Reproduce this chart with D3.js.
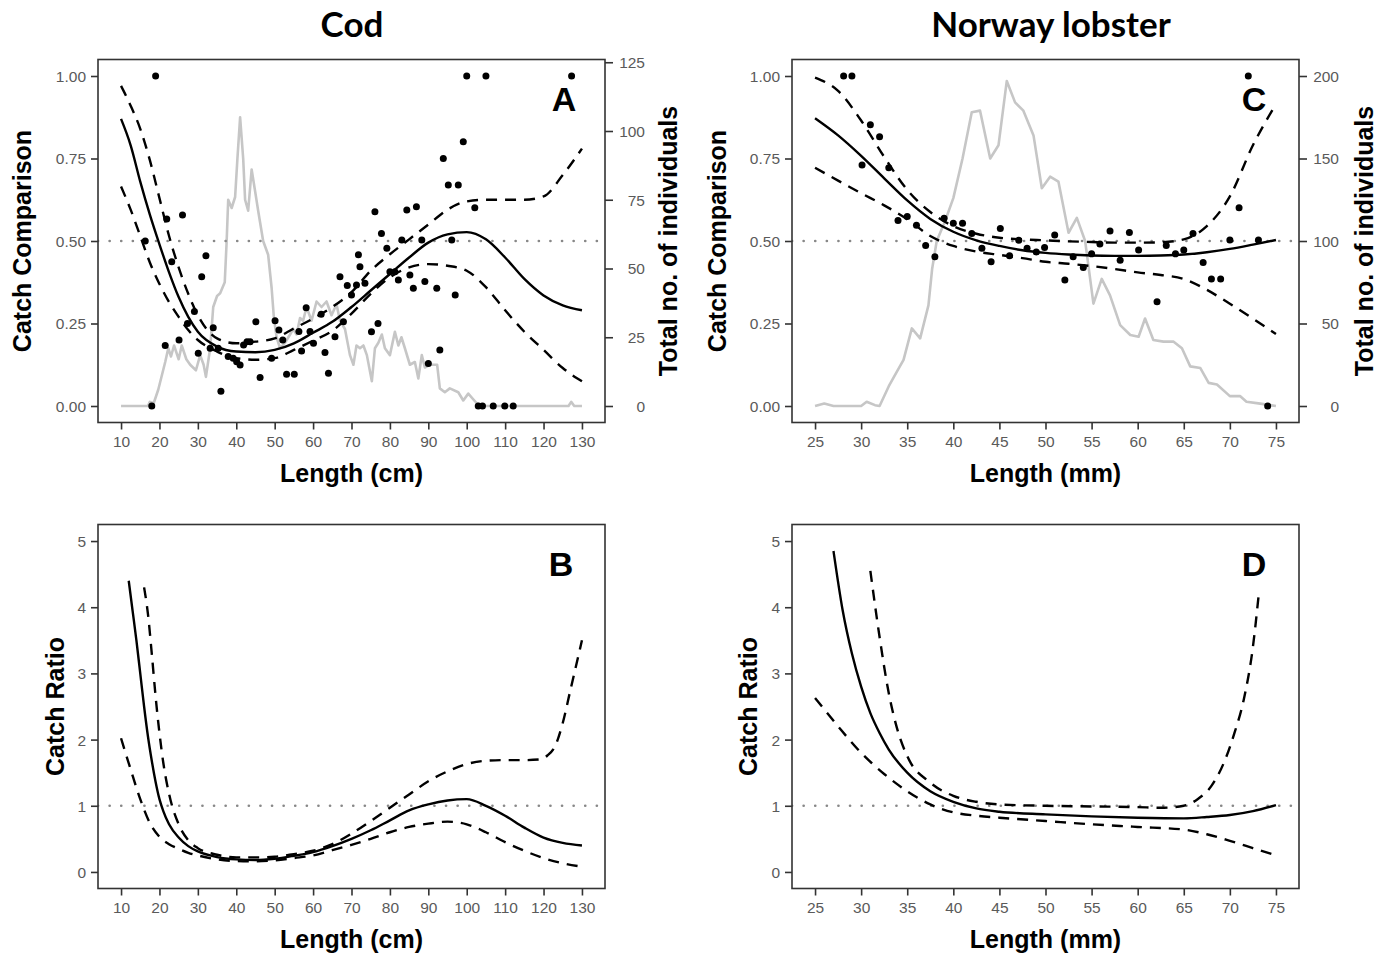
<!DOCTYPE html>
<html><head><meta charset="utf-8">
<script src="https://cdn.jsdelivr.net/npm/d3@7"></script>
<style>
body{margin:0;background:#fff;}
svg{display:block;}
</style></head>
<body>
<svg id="chart" width="1390" height="953"></svg>
<script>
// ---------------- DATA ----------------
const codTicksX = [10,20,30,40,50,60,70,80,90,100,110,120,130];
const nephTicksX = [25,30,35,40,45,50,55,60,65,70,75];
const ccTicksY = [0,0.25,0.5,0.75,1.0];
const crTicksY = [0,1,2,3,4,5];
const codCountTicks = [0,25,50,75,100,125];
const nephCountTicks = [0,50,100,150,200];

// Cod: total number of individuals (grey line)
const codCountLen = [10,17,17.5,18.5,19.7,21.5,22.3,23,23.8,25,25.8,27,28,29.5,30.6,31.5,32.1,33.2,34,35,35.8,37,37.5,37.9,38.8,39.7,40.3,41,41.8,42.3,43.1,44,44.8,45.7,47,48.3,49.2,49.8,50.5,51.4,52.7,54,54.8,55.7,56.6,57.4,58.3,59.6,60.9,62.2,63.5,64.8,66.1,67,68.3,69.6,70.5,71.3,72.2,73.1,74,75.3,76.1,77,77.9,78.7,80,81.3,82.2,83,83.9,85.2,86.5,87.4,88.3,89.1,90.4,92.3,93,94.3,95.6,97.8,99.1,100.4,102.6,103.9,126.5,127.2,128,130];
const codCount    = [0,0,1.5,1,6,16,21,18,22,17,22,17,15,13,18.5,15,10.6,21,36,40,41,45,60,75,72,76,90,105,90,75,71,86,79,71,60,55,43,32,25,21,23,26,28,26,32,31,36,31,38,36,38,33,37,31,28,18.5,15,22,21,22,18.5,9,21,23,26,21,18.5,27,22,25,21,15,16,10,18.5,14,15,15,6.4,5,6.4,5,2,4.5,1,0,0,1.5,0,0];

// Cod: observed catch comparison (points)
const codPtLen = [19.0,18.0,16.3,21.9,26.0,21.5,25.1,23.2,32.1,31.0,29.1,27.3,30.1,34.0,33.2,35.3,36.0,37.9,41.0,39.2,40.1,41.9,42.8,43.6,45.1,46.2,49.2,50.1,51.1,52.1,53.1,55.1,57.0,56.3,58.2,59.2,60.1,62.1,63.1,64.0,65.7,67.0,68.9,67.9,70.0,71.3,71.8,72.2,73.5,76.1,75.2,76.9,77.8,79.2,80.0,81.3,82.2,83.1,84.4,85.2,86.1,86.9,89.1,88.3,92.2,93.0,90.0,93.9,95.2,97.8,96.1,97.0,99.1,100.0,102.1,105.0,103.0,104.1,106.9,109.9,112.1,127.3];
const codPtCC  = [1.0,0.0,0.5,0.567,0.579,0.183,0.2,0.437,0.455,0.392,0.286,0.25,0.16,0.237,0.175,0.175,0.045,0.15,0.124,0.145,0.134,0.185,0.195,0.195,0.255,0.086,0.145,0.258,0.23,0.2,0.096,0.096,0.167,0.226,0.298,0.226,0.19,0.278,0.162,0.099,0.21,0.392,0.365,0.255,0.336,0.367,0.458,0.422,0.372,0.589,0.225,0.25,0.523,0.478,0.407,0.407,0.382,0.503,0.594,0.397,0.357,0.604,0.377,0.503,0.357,0.17,0.129,0.75,0.67,0.67,0.503,0.336,0.801,1.0,0.601,1.0,0,0,0,0,0,1.0];

// Cod: fitted catch comparison with confidence band
const codCurveLen = [10,12.5,15,17.5,20,22.5,25,27.5,30,35,40,45,50,55,60,65,70,75,80,85,90,95,100,105,110,115,120,125,130];
const codFitCC    = [0.87,0.79,0.68,0.58,0.49,0.405,0.33,0.27,0.225,0.18,0.165,0.163,0.17,0.19,0.222,0.255,0.30,0.35,0.40,0.45,0.495,0.52,0.527,0.505,0.45,0.385,0.335,0.305,0.29];
const codUpperCC  = [0.97,0.91,0.84,0.745,0.63,0.515,0.42,0.34,0.275,0.205,0.19,0.195,0.205,0.235,0.265,0.30,0.345,0.41,0.46,0.505,0.55,0.595,0.62,0.625,0.625,0.625,0.635,0.70,0.78];
const codLowerCC  = [0.665,0.595,0.515,0.435,0.37,0.315,0.27,0.23,0.20,0.165,0.145,0.14,0.145,0.17,0.198,0.228,0.28,0.34,0.39,0.42,0.43,0.425,0.41,0.36,0.29,0.225,0.17,0.115,0.075];

// Cod: catch ratio
const codFitCRLen = [12,13,14,15,16,17,18,19,20,21,22.5,25,27.5,30,35,40,45,50,55,60,65,70,75,80,85,90,95,100,105,110,115,120,125,130];
const codFitCR    = [4.4,3.95,3.5,3.0,2.5,2.05,1.68,1.36,1.1,0.92,0.72,0.52,0.39,0.31,0.225,0.19,0.18,0.2,0.245,0.3,0.39,0.5,0.63,0.78,0.93,1.02,1.08,1.1,1.0,0.85,0.67,0.52,0.44,0.4];
const codUpCRLen  = [16,17,18,19,20,21,22.5,25,27.5,30,35,40,45,50,55,60,65,70,75,80,85,90,95,100,105,110,115,119,121,123,125,127,130];
const codUpCR     = [4.3,3.9,3.3,2.65,2.1,1.65,1.18,0.72,0.48,0.36,0.26,0.22,0.22,0.23,0.27,0.32,0.42,0.58,0.77,0.97,1.17,1.37,1.52,1.63,1.68,1.69,1.69,1.7,1.76,1.9,2.25,2.75,3.5];
const codLoCRLen  = [10,12.5,15,17.5,20,22.5,25,27.5,30,35,40,45,50,55,60,65,70,75,80,85,90,95,100,105,110,115,120,125,130];
const codLoCR     = [2.02,1.55,1.1,0.74,0.53,0.42,0.35,0.29,0.25,0.19,0.165,0.16,0.175,0.21,0.25,0.33,0.41,0.5,0.6,0.68,0.73,0.76,0.72,0.6,0.45,0.32,0.21,0.13,0.08];

// Norway lobster: total number of individuals
const nephCountLen = [25,26,27,30,30.6,31.5,32,33,34,34.6,35.5,36.4,37.3,37.7,38.2,39.1,40,41,42,42.9,44,44.9,45.8,46.7,47.6,48.7,49.6,50.5,51.4,52.5,53.4,54.3,55.2,56.1,57,58.1,59.2,60.1,60.8,61.7,62.8,63.9,64.8,65.7,66.8,67.7,68.6,70,71.1,71.8,73.1,75];
const nephCount    = [0,1.5,0,0,2.6,0.5,0,12,22,28,47,41,61,83,100,112,126,150,178,179,150,158,197,184,179,164,132,139,136,105,114,100,62,77,67,49,43,42,53,40,39,39,35,24,23,14,13,6,6,2.6,1.6,0];

// Norway lobster: observed catch comparison
const nephPtLen = [28.1,29.0,31.0,32.0,30.1,33.0,34.0,35.0,36.0,37.0,38.0,39.0,40.0,41.0,42.0,43.1,44.1,45.1,46.1,47.1,48.0,49.0,49.9,51.0,52.1,53.0,54.1,55.0,55.9,57.0,58.1,59.1,60.1,62.1,63.1,64.1,65.0,66.0,67.1,68.0,69.0,70.0,71.0,72.0,73.1,74.1];
const nephPtCC  = [1,1,0.852,0.816,0.73,0.722,0.562,0.574,0.548,0.486,0.452,0.569,0.554,0.554,0.523,0.478,0.437,0.538,0.455,0.502,0.478,0.467,0.48,0.518,0.382,0.452,0.42,0.461,0.491,0.53,0.442,0.526,0.473,0.316,0.486,0.461,0.473,0.523,0.435,0.385,0.385,0.503,0.601,1,0.503,0];

// Norway lobster: fitted catch comparison with band
const nephCurveLen = [25,27.5,30,32.5,35,37.5,40,42.5,45,47.5,50,52.5,55,57.5,60,62.5,65,67.5,70,72.5,75];
const nephFitCC    = [0.872,0.82,0.758,0.69,0.623,0.567,0.528,0.502,0.485,0.472,0.464,0.459,0.456,0.455,0.455,0.456,0.459,0.466,0.476,0.489,0.503];
const nephUpperCC  = [0.995,0.955,0.865,0.755,0.655,0.588,0.545,0.522,0.51,0.505,0.502,0.499,0.497,0.495,0.495,0.496,0.505,0.545,0.635,0.79,0.915];
const nephLowerCC  = [0.722,0.683,0.645,0.608,0.566,0.515,0.485,0.468,0.458,0.448,0.437,0.431,0.424,0.415,0.405,0.397,0.385,0.352,0.31,0.265,0.218];

// Norway lobster: catch ratio
const nephFitCRLen = [27,28,29,30,31,32,33,35,37.5,40,42.5,45,50,55,60,65,67.5,70,72.5,75];
const nephFitCR    = [4.85,3.95,3.3,2.8,2.4,2.1,1.85,1.5,1.22,1.06,0.96,0.91,0.87,0.84,0.82,0.81,0.83,0.86,0.92,1.01];
const nephUpCRLen  = [31,32,33,34,35,37.5,40,42.5,45,50,55,60,62.5,65,66.5,68,69.5,70.5,71.5,72.5,73.1];
const nephUpCR     = [4.55,3.55,2.7,2.12,1.75,1.35,1.15,1.06,1.02,1.0,0.99,0.98,0.97,1.0,1.1,1.3,1.7,2.1,2.6,3.4,4.15];
const nephLoCRLen  = [25,27.5,30,32.5,35,37.5,40,42.5,45,50,55,60,65,67.5,70,72.5,75];
const nephLoCR     = [2.63,2.2,1.8,1.48,1.22,1.02,0.9,0.85,0.82,0.77,0.72,0.68,0.64,0.57,0.47,0.36,0.25];

// ---------------- DRAWING ----------------
const svg = d3.select("#chart");
const FONT = "'Liberation Sans', Arial, sans-serif";

function zip(xs, ys){ return xs.map((x,i)=>[x, ys[i]]); }

function styleTicks(sel){
  sel.select(".domain").remove();
  sel.selectAll(".tick line").attr("stroke","#333").attr("stroke-width",1.6);
  sel.selectAll(".tick text").attr("font-family",FONT).attr("font-size",15.5).attr("fill","#5a5a5a");
}

function panel(opt){
  const g = svg.append("g");
  const x = d3.scaleLinear().domain(opt.xDomain).range([opt.left, opt.right]);
  const y = d3.scaleLinear().domain(opt.yDomain).range([opt.bottom, opt.top]);

  const xa = g.append("g").attr("transform", `translate(0,${opt.bottom})`)
    .call(d3.axisBottom(x).tickValues(opt.xTicks).tickSize(7).tickPadding(6).tickFormat(d3.format("d")));
  styleTicks(xa);
  const ya = g.append("g").attr("transform", `translate(${opt.left},0)`)
    .call(d3.axisLeft(y).tickValues(opt.yTicks).tickSize(7).tickPadding(5).tickFormat(opt.yFormat));
  styleTicks(ya);
  ya.selectAll(".tick text").attr("dy","0.35em");

  let yc = null;
  if (opt.countDomain){
    yc = d3.scaleLinear().domain(opt.countDomain).range([opt.bottom, opt.top]);
    const ra = g.append("g").attr("transform", `translate(${opt.right},0)`)
      .call(d3.axisRight(yc).tickValues(opt.countTicks).tickSize(8).tickPadding(0).tickFormat(d3.format("d")));
    styleTicks(ra);
    ra.selectAll(".tick text").attr("text-anchor","end").attr("x",40).attr("dy","0.35em");
  }

  const clipId = "clip" + opt.id;
  svg.append("clipPath").attr("id", clipId).append("rect")
    .attr("x", opt.left).attr("y", opt.top).attr("width", opt.right-opt.left).attr("height", opt.bottom-opt.top);
  const plot = g.append("g").attr("clip-path", `url(#${clipId})`);

  if (opt.count){
    plot.append("path").datum(opt.count)
      .attr("d", d3.line().x(d=>x(d[0])).y(d=>yc(d[1])))
      .attr("fill","none").attr("stroke","#c6c6c6").attr("stroke-width",2.6).attr("stroke-linejoin","round");
  }
  plot.append("path").datum(opt.xDomain)
    .attr("d", d3.line().x(d=>x(d)).y(()=>y(opt.ref)))
    .attr("fill","none").attr("stroke","#888").attr("stroke-width",2.6)
    .attr("stroke-linecap","round").attr("stroke-dasharray","0.1,11.5");

  const curve = d3.line().x(d=>x(d[0])).y(d=>y(d[1])).curve(d3.curveMonotoneX);
  opt.dashed.forEach(s=>{
    plot.append("path").datum(s).attr("d", curve)
      .attr("fill","none").attr("stroke","#000").attr("stroke-width",2.4)
      .attr("stroke-dasharray","11,8");
  });
  plot.append("path").datum(opt.fit).attr("d", curve)
    .attr("fill","none").attr("stroke","#000").attr("stroke-width",2.4);

  if (opt.points){
    plot.selectAll("circle.pt").data(opt.points).join("circle")
      .attr("cx", d=>x(d[0])).attr("cy", d=>y(d[1])).attr("r", 3.5).attr("fill","#000");
  }

  g.append("rect").attr("x",opt.left).attr("y",opt.top)
    .attr("width",opt.right-opt.left).attr("height",opt.bottom-opt.top)
    .attr("fill","none").attr("stroke","#333").attr("stroke-width",1.6);

  g.append("text").attr("x", opt.letterX).attr("y", opt.top+51)
    .attr("text-anchor","middle").attr("font-family",FONT).attr("font-weight","bold")
    .attr("font-size",34).attr("fill","#000").text(opt.letter);

  g.append("text").attr("x",(opt.left+opt.right)/2).attr("y",opt.bottom+59)
    .attr("text-anchor","middle").attr("font-family",FONT).attr("font-weight","bold")
    .attr("font-size",25).attr("fill","#000").text(opt.xTitle);
  g.append("text").attr("transform",`translate(${opt.yTitleX},${(opt.top+opt.bottom)/2}) rotate(-90)`)
    .attr("text-anchor","middle").attr("dy","0.35em").attr("font-family",FONT).attr("font-weight","bold")
    .attr("font-size",25).attr("fill","#000").text(opt.yTitle);
  if (opt.countTitle){
    g.append("text").attr("transform",`translate(${opt.countTitleX},${(opt.top+opt.bottom)/2}) rotate(-90)`)
      .attr("text-anchor","middle").attr("dy","0.35em").attr("font-family",FONT).attr("font-weight","bold")
      .attr("font-size",25).attr("fill","#000").text(opt.countTitle);
  }
}

const fmt2 = d3.format(".2f");
const fmt0 = d3.format("d");

panel({id:"A", left:98, right:605, top:59.5, bottom:422.5, xDomain:[4,136], yDomain:[-0.05,1.05],
  xTicks:codTicksX, yTicks:ccTicksY, yFormat:fmt2, ref:0.5,
  countDomain:[-6,126], countTicks:codCountTicks, count:zip(codCountLen,codCount),
  fit:zip(codCurveLen,codFitCC), dashed:[zip(codCurveLen,codUpperCC), zip(codCurveLen,codLowerCC)],
  points:zip(codPtLen,codPtCC), letter:"A", letterX:564,
  xTitle:"Length (cm)", yTitle:"Catch Comparison", yTitleX:22,
  countTitle:"Total no. of individuals", countTitleX:668});

panel({id:"B", left:98, right:605, top:524.5, bottom:888.5, xDomain:[4,136], yDomain:[-0.25,5.25],
  xTicks:codTicksX, yTicks:crTicksY, yFormat:fmt0, ref:1,
  fit:zip(codFitCRLen,codFitCR), dashed:[zip(codUpCRLen,codUpCR), zip(codLoCRLen,codLoCR)],
  letter:"B", letterX:561, xTitle:"Length (cm)", yTitle:"Catch Ratio", yTitleX:55});

panel({id:"C", left:792, right:1299, top:59.5, bottom:422.5, xDomain:[22.5,77.5], yDomain:[-0.05,1.05],
  xTicks:nephTicksX, yTicks:ccTicksY, yFormat:fmt2, ref:0.5,
  countDomain:[-10,210], countTicks:nephCountTicks, count:zip(nephCountLen,nephCount),
  fit:zip(nephCurveLen,nephFitCC), dashed:[zip(nephCurveLen,nephUpperCC), zip(nephCurveLen,nephLowerCC)],
  points:zip(nephPtLen,nephPtCC), letter:"C", letterX:1254,
  xTitle:"Length (mm)", yTitle:"Catch Comparison", yTitleX:717,
  countTitle:"Total no. of individuals", countTitleX:1364});

panel({id:"D", left:792, right:1299, top:524.5, bottom:888.5, xDomain:[22.5,77.5], yDomain:[-0.25,5.25],
  xTicks:nephTicksX, yTicks:crTicksY, yFormat:fmt0, ref:1,
  fit:zip(nephFitCRLen,nephFitCR), dashed:[zip(nephUpCRLen,nephUpCR), zip(nephLoCRLen,nephLoCR)],
  letter:"D", letterX:1254, xTitle:"Length (mm)", yTitle:"Catch Ratio", yTitleX:748});

svg.append("text").attr("x",352).attr("y",37).attr("text-anchor","middle")
  .attr("font-family","Lato, 'Open Sans', sans-serif").attr("font-weight","bold").attr("font-size",35).text("Cod");
svg.append("text").attr("x",1051).attr("y",37).attr("text-anchor","middle")
  .attr("font-family","Lato, 'Open Sans', sans-serif").attr("font-weight","bold").attr("font-size",35).text("Norway lobster");
</script>
</body></html>
